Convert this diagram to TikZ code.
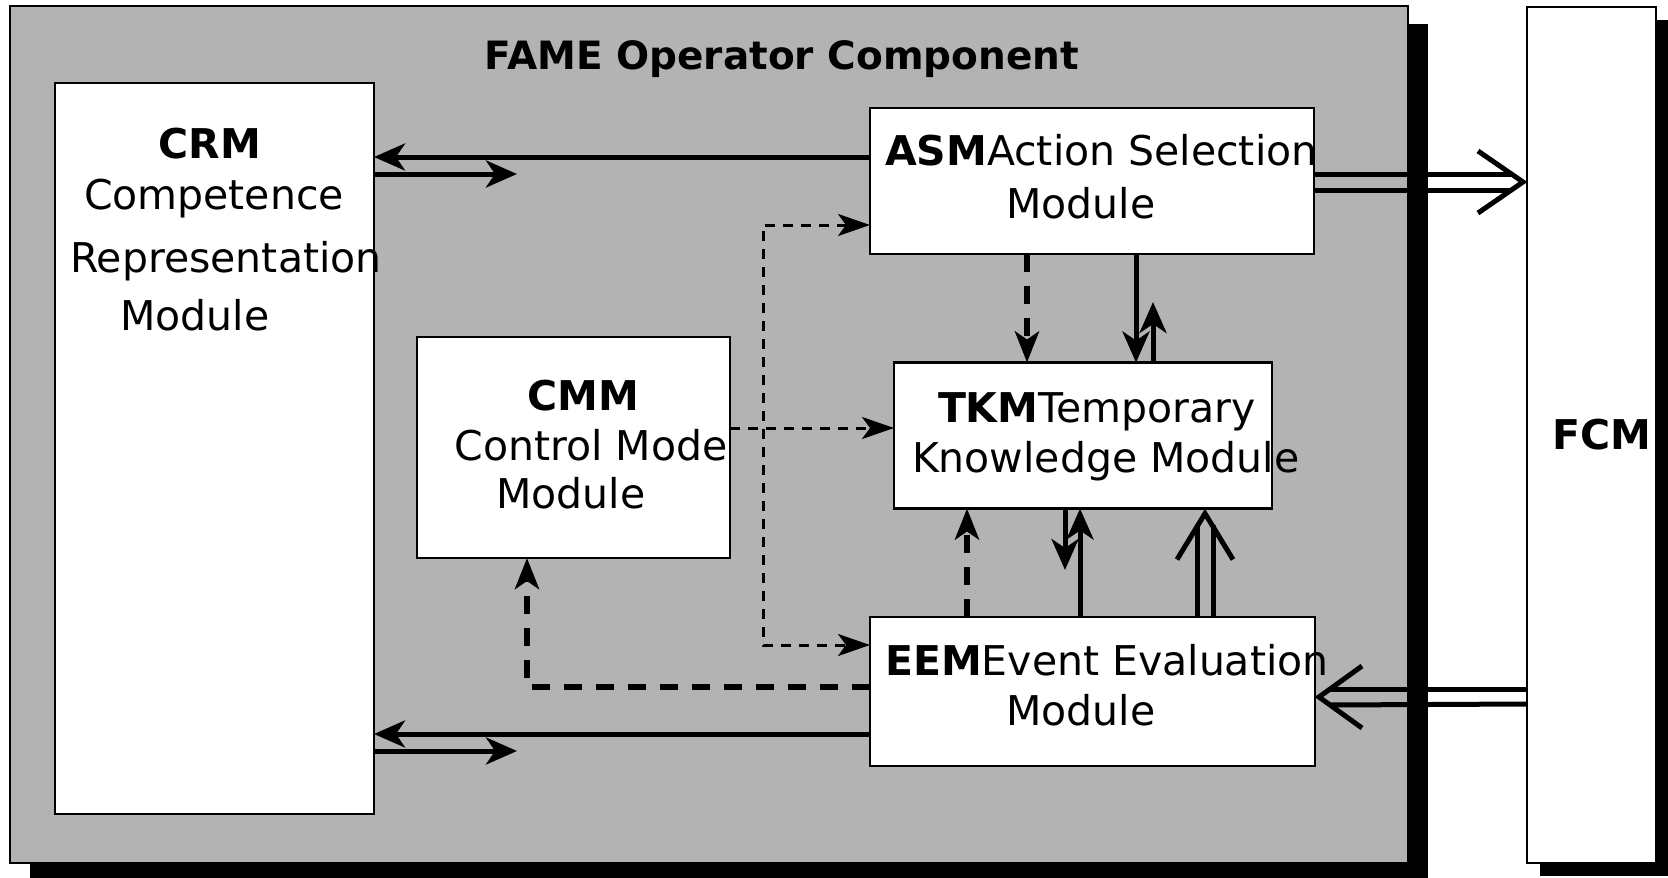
\documentclass[tikz,border=0pt]{standalone}
\usepackage{fontspec}
\setmainfont{DejaVu Sans}
\usetikzlibrary{arrows.meta,calc}
\definecolor{panelgray}{RGB}{179,179,179}
\begin{document}
\begin{tikzpicture}[x=1pt,y=-1pt,
  box/.style={draw=black, fill=white, line width=2.5pt, inner sep=0pt, outer sep=0pt},
  lbl/.style={inner sep=0pt, outer sep=0pt, anchor=base, font=\fontsize{41}{49}\selectfont},
  lblw/.style={lbl, anchor=base west},
  sarr/.style={line width=5pt, -{Stealth[length=31pt,width=27pt,inset=9pt]}},
  tline/.style={line width=3pt, dash pattern=on 10pt off 8pt},
  ttip/.tip={Stealth[length=32pt,width=22pt,inset=8pt]},
  kdash/.style={line width=6pt, dash pattern=on 18pt off 14pt, -{Stealth[length=31pt,width=24pt,inset=8pt]}},
  dline/.style={line width=5pt},
  chev/.style={line width=5pt, line join=miter}
]
\useasboundingbox (0,0) rectangle (1668,878);
\clip (0,0) rectangle (1668,878);
\fill[white] (0,0) rectangle (1668,878);

% panel and its shadow
\node[fill=black, inner sep=0pt, minimum width=1398pt, minimum height=857pt] (fameshadow) at (729,452.5) {};
\node[draw=black, fill=panelgray, line width=2pt, inner sep=0pt, minimum width=1398pt, minimum height=857pt] (fame) at (709,434.5) {};
\node[lbl, font=\fontsize{39}{47}\selectfont\bfseries] (title) at (782,69) {FAME Operator Component};

% FCM and its shadow
\node[fill=black, inner sep=0pt, minimum width=129pt, minimum height=856pt] (fcmshadow) at (1604.5,448) {};
\node[box, line width=1.8pt, minimum width=129pt, minimum height=856pt] (fcm) at (1591.5,435) {};

% module boxes
\node[box, minimum width=319pt, minimum height=731pt] (crm) at (214.5,448.5) {};
\node[box, minimum width=444pt, minimum height=146pt] (asm) at (1092,181) {};
\node[box, minimum width=378pt, minimum height=146pt] (tkm) at (1083,435.5) {};
\node[box, minimum width=313pt, minimum height=221pt] (cmm) at (573.5,447.5) {};
\node[box, minimum width=445pt, minimum height=149pt] (eem) at (1092.5,691.5) {};

% texts
\node[lbl, font=\fontsize{41}{49}\selectfont\bfseries] (crmt1) at (210,158) {CRM};
\node[lbl] (crmt2) at (214,209) {Competence};
\node[lbl] (crmt3) at (226,272) {Representation};
\node[lbl] (crmt4) at (195,330) {Module};

\node[lblw] (asmt1) at (885,165) {\textbf{ASM}Action Selection};
\node[lbl] (asmt2) at (1081,218) {Module};

\node[lblw] (tkmt1) at (938,422) {\textbf{TKM}Temporary};
\node[lblw] (tkmt2) at (912,472) {Knowledge Module};

\node[lbl, font=\fontsize{41}{49}\selectfont\bfseries] (cmmt1) at (583,410) {CMM};
\node[lbl] (cmmt2) at (591,460) {Control Mode};
\node[lbl] (cmmt3) at (571,508) {Module};

\node[lblw] (eemt1) at (885,675) {\textbf{EEM}Event Evaluation};
\node[lbl] (eemt2) at (1081,725) {Module};

\node[lbl, font=\fontsize{41}{49}\selectfont\bfseries] (fcmt) at (1602,449) {FCM};

% ASM / EEM <-> CRM
\draw[sarr] (asm.west |- 0,157) -- (crm.east |- 0,157);
\coordinate (crmA) at (517,174);
\draw[sarr] (crm.east |- crmA) -- (crmA);
\draw[sarr] (eem.west |- 0,734) -- (crm.east |- 0,734);
\coordinate (crmB) at (517,751);
\draw[sarr] (crm.east |- crmB) -- (crmB);

% ASM => FCM
\coordinate (tipA) at ([xshift=-4pt]fcm.west |- 0,182);
\draw[dline] (asm.east |- 0,174) -- ($(tipA)+(-11,-8)$);
\draw[dline] (asm.east |- 0,190) -- ($(tipA)+(-11,8)$);
\draw[chev] (tipA) ++(-45,-31) -- (tipA) -- ++(-45,31);

% FCM => EEM
\coordinate (tipB) at ([xshift=4pt]eem.east |- 0,697);
\draw[dline] (fcm.west |- 0,689) -- ($(tipB)+(11,-8)$);
\draw[dline] (fcm.west |- 0,704) -- ($(tipB)+(11,8)$);
\draw[chev] (tipB) ++(43,-31) -- (tipB) -- ++(43,31);

% EEM => TKM
\coordinate (tkmS) at (1205,0 |- tkm.south);
\coordinate (tipC) at ($(tkmS)+(0,5)$);
\draw[dline] (1197,0 |- eem.north) -- ($(tipC)+(-8,11)$);
\draw[dline] (1213,0 |- eem.north) -- ($(tipC)+(8,11)$);
\draw[chev] (tipC) ++(-28,46) -- (tipC) -- ++(28,46);

% solid vertical arrows
\draw[sarr] (1136,0 |- asm.south) -- (1136,0 |- tkm.north);
\coordinate (tkmUp) at (1153,302);
\draw[sarr] (tkmUp |- tkm.north) -- (tkmUp);
\coordinate (tkmDn) at (1065,570);
\draw[sarr] (tkmDn |- tkm.south) -- (tkmDn);
\draw[sarr] (1080,0 |- eem.north) -- (1080,0 |- tkm.south);

% thick dashed arrows
\draw[kdash] (1027,0 |- asm.south) -- (1027,0 |- tkm.north);
\draw[kdash] (967,0 |- eem.north) -- (967,0 |- tkm.south);
\draw[kdash] (eem.west |- 0,687) -| (cmm.south -| 527,0);

% thin dashed arrows from CMM
\draw[tline, -ttip] (cmm.east |- 0,428) -- (tkm.west |- 0,428);
\draw[tline, ttip-ttip] (asm.west |- 0,225) -- (763,225) -- (763,645) -- (eem.west |- 0,645);
\end{tikzpicture}
\end{document}
